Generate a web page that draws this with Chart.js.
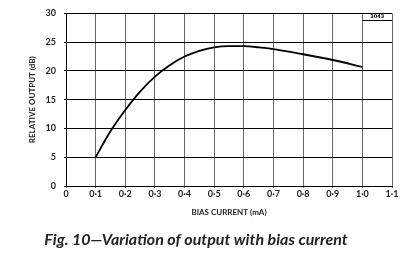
<!DOCTYPE html>
<html lang="en">
<head>
  <meta charset="UTF-8">
  <title>Variation of output with bias current</title>
  <script src="https://cdn.jsdelivr.net/npm/chart.js"></script>
  <style>
    html, body { margin: 0; padding: 0; background: #fff; }
    .wrap { width: 413px; height: 259px; }
  </style>
</head>
<body>
<div class="wrap"><canvas id="biasChart" width="413" height="259"></canvas></div>

<script>
  // values
  const biasCurrent = [0.1, 0.15, 0.2, 0.25, 0.3, 0.35, 0.4, 0.45, 0.5, 0.55, 0.6, 0.65, 0.7, 0.8, 0.9, 1.0];
  const relOutput   = [5, 9.5, 13.2, 16.4, 19.0, 21.0, 22.5, 23.5, 24.1, 24.3, 24.3, 24.1, 23.8, 22.9, 21.9, 20.7];
  const figRef = '3043';

  const points = biasCurrent.map((x, i) => ({ x, y: relOutput[i] }));

  function fmtX(v) {
    if (Math.abs(v) < 1e-9) return '0';
    return v.toFixed(1).replace('.', '·');
  }
  function fmtY(v) { return String(Math.round(v)); }

  // little reference box in the top right cell
  const refBox = {
    id: 'refBox',
    afterDraw(chart) {
      const { ctx, scales: { x }, chartArea } = chart;
      const x0 = x.getPixelForValue(1.0), x1 = x.getPixelForValue(1.1);
      const yb = Math.round(chartArea.top + 7);
      ctx.save();
      ctx.strokeStyle = 'black';
      ctx.lineWidth = 1;
      ctx.beginPath();
      ctx.moveTo(x0, yb + 0.5);
      ctx.lineTo(x1, yb + 0.5);
      ctx.stroke();
      ctx.fillStyle = 'black';
      ctx.font = 'bold 5px "DejaVu Sans"';
      ctx.textAlign = 'center';
      ctx.textBaseline = 'middle';
      ctx.fillText(figRef, (x0 + x1) / 2, chartArea.top + 3.8);
      ctx.restore();
    }
  };

  const tickFont = { family: 'Lato', size: 9, weight: 'bold' };

  new Chart(document.getElementById('biasChart'), {
    type: 'line',
    data: {
      datasets: [{
        data: points,
        borderColor: 'black',
        borderWidth: 1.8,
        pointRadius: 0,
        fill: false,
        cubicInterpolationMode: 'monotone'
      }]
    },
    options: {
      responsive: false,
      animation: false,
      layout: { padding: { left: 0, right: 21, top: 11, bottom: 0 } },
      plugins: {
        legend: { display: false },
        tooltip: { enabled: false },
        title: {
          display: true,
          position: 'bottom',
          text: 'Fig. 10\u2014Variation of output with bias current',
          color: '#222',
          font: { family: 'Lato', size: 16, style: 'italic', lineHeight: 1.2 },
          padding: { top: 0, bottom: 10 }
        }
      },
      scales: {
        x: {
          type: 'linear',
          min: 0,
          max: 1.1,
          ticks: { stepSize: 0.1, color: '#222', font: tickFont, padding: 1, maxRotation: 0, autoSkip: false, callback: fmtX },
          grid: { display: true, drawOnChartArea: true, color: 'dimgray', lineWidth: 1, drawTicks: true, tickLength: 2 },
          border: { color: 'black', width: 1 },
          title: {
            display: true,
            text: 'BIAS CURRENT (mA)',
            color: '#222',
            font: { family: 'Lato', size: 8, weight: 'bold', lineHeight: 1.2 },
            padding: { top: 0, bottom: 13 }
          },
          afterFit(s) { s.height = 43.8; }
        },
        y: {
          type: 'linear',
          min: 0,
          max: 30,
          ticks: { stepSize: 5, color: '#222', font: tickFont, padding: 8, callback: fmtY },
          grid: { display: true, drawOnChartArea: true, color: 'black', lineWidth: 1, drawTicks: true, tickLength: 2 },
          border: { color: 'black', width: 1 },
          title: {
            display: true,
            text: 'RELATIVE OUTPUT (dB)',
            color: '#222',
            font: { family: 'Lato', size: 8, weight: 'bold', lineHeight: 1.2 },
            padding: { top: 28, bottom: 0 }
          },
          afterFit(s) { s.width = 66; }
        }
      }
    },
    plugins: [refBox]
  });
</script>
</body>
</html>
